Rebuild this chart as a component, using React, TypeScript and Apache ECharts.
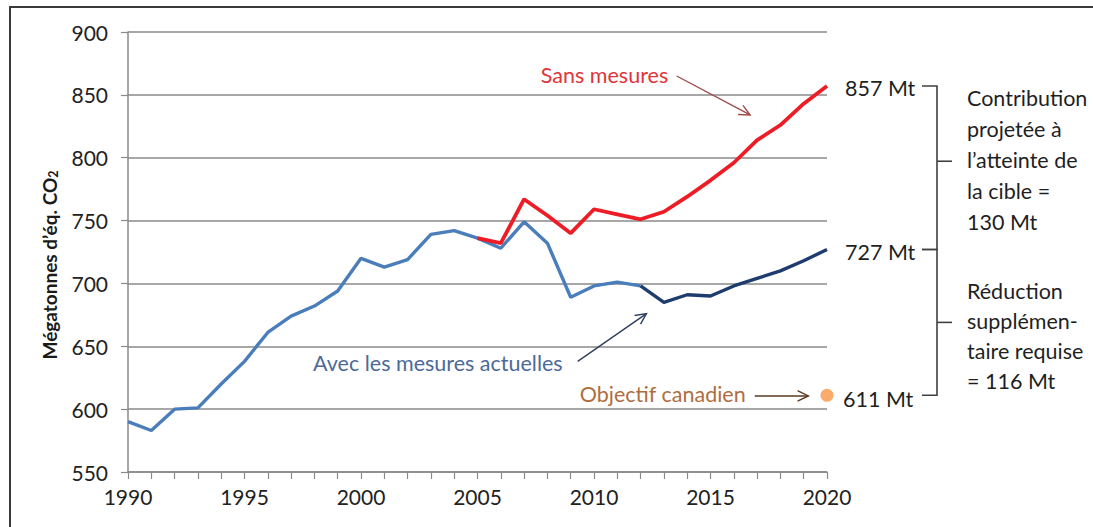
import React, { useEffect, useRef } from "react";
import * as echarts from "echarts";

// Years 1990–2020
const annees = [
  1990, 1991, 1992, 1993, 1994, 1995, 1996, 1997, 1998, 1999, 2000, 2001, 2002, 2003, 2004, 2005,
  2006, 2007, 2008, 2009, 2010, 2011, 2012, 2013, 2014, 2015, 2016, 2017, 2018, 2019, 2020,
];
// "Avec les mesures actuelles" (historical + projection), Mt CO2 eq.
const avecMesures = [
  590, 583, 600, 601, 620, 638, 661, 674, 682, 694, 720, 713, 719, 739, 742, 736,
  728, 749, 732, 689, 698, 701, 698, 685, 691, 690, 698, 704, 710, 718, 727,
];
// "Sans mesures" 2005–2020
const anneesSans = [2005, 2006, 2007, 2008, 2009, 2010, 2011, 2012, 2013, 2014, 2015, 2016, 2017, 2018, 2019, 2020];
const sansMesures = [736, 732, 767, 754, 740, 759, 755, 751, 757, 769, 782, 796, 814, 826, 843, 857];
// Objectif canadien
const objectifAnnee = 2020;
const objectifValeur = 611;
const anneeRupture = 2012;

const yTicks = { min: 550, max: 900, interval: 50 };
const xTicks = { min: 1990, max: 2020, interval: 5 };

const FONT = "Lato, 'Open Sans', sans-serif";
const TXT_SIZE = 21.5;

export default function App() {
  const ref = useRef<HTMLDivElement>(null);

  useEffect(() => {
    if (!ref.current) return;
    const chart = echarts.init(ref.current, null, { renderer: "svg" });

    const lightData = annees
      .map((a, i) => [a, avecMesures[i]])
      .filter((d) => d[0] <= anneeRupture);
    const darkData = annees
      .map((a, i) => [a, avecMesures[i]])
      .filter((d) => d[0] >= anneeRupture);
    const redData = anneesSans.map((a, i) => [a, sansMesures[i]]);

    const gridColor = "#8a8a8a";

    chart.setOption({
      animation: false,
      backgroundColor: "#ffffff",
      grid: { left: 128, right: 266, top: 32, bottom: 55 },
      xAxis: {
        type: "value",
        min: xTicks.min,
        max: xTicks.max,
        interval: xTicks.interval,
        axisLine: { show: true, lineStyle: { color: gridColor, width: 1.5 } },
        axisTick: { show: true, length: 7, lineStyle: { color: gridColor, width: 1.2 } },
        minorTick: { show: true, splitNumber: 5, length: 7, lineStyle: { color: gridColor, width: 1.2 } },
        splitLine: { show: false },
        axisLabel: {
          margin: 14,
          fontFamily: FONT,
          fontSize: 21,
          color: "#222",
          formatter: (v: number) => String(v),
        },
      },
      yAxis: {
        type: "value",
        min: yTicks.min,
        max: yTicks.max,
        interval: yTicks.interval,
        axisLine: { show: true, lineStyle: { color: gridColor, width: 1.5 } },
        axisTick: { show: true, length: 7, lineStyle: { color: gridColor, width: 1.2 } },
        splitLine: { show: true, lineStyle: { color: gridColor, width: 1.5 } },
        axisLabel: {
          margin: 20,
          fontFamily: FONT,
          fontSize: 21,
          color: "#222",
        },
      },
      series: [
        {
          type: "line",
          data: lightData,
          symbol: "none",
          lineStyle: { color: "#4a7ebb", width: 3.4 },
          z: 2,
        },
        {
          type: "line",
          data: darkData,
          symbol: "none",
          lineStyle: { color: "#1f3c6e", width: 3.4 },
          z: 2,
        },
        {
          type: "line",
          data: redData,
          symbol: "none",
          lineStyle: { color: "#ee1c25", width: 3.8 },
          z: 3,
        },
        {
          type: "scatter",
          data: [[objectifAnnee, objectifValeur]],
          symbolSize: 13,
          itemStyle: { color: "#f79646" },
          z: 4,
        },
      ],
    });

    const p = (x: number, y: number) =>
      chart.convertToPixel({ gridIndex: 0 }, [x, y]) as number[];

    const arrow = (a: number[], b: number[], color: string, width: number) => {
      const ang = Math.atan2(b[1] - a[1], b[0] - a[0]);
      const h = 12;
      const s = 0.45;
      const l = [b[0] - h * Math.cos(ang - s), b[1] - h * Math.sin(ang - s)];
      const r = [b[0] - h * Math.cos(ang + s), b[1] - h * Math.sin(ang + s)];
      return [
        {
          type: "line",
          shape: { x1: a[0], y1: a[1], x2: b[0], y2: b[1] },
          style: { stroke: color, lineWidth: width },
          z: 10,
        },
        {
          type: "polyline",
          shape: { points: [l, b, r] },
          style: { stroke: color, lineWidth: width, fill: null },
          z: 10,
        },
      ];
    };

    const y857 = p(2020, 857)[1];
    const y727 = p(2020, 727)[1];
    const y611 = p(2020, 611)[1];
    const xEnd = p(2020, 611)[0];

    const bx0 = xEnd + 95;
    const bx1 = xEnd + 110;
    const bx2 = xEnd + 125;
    const bStroke = "#404040";

    const bracket = (yTop: number, yBot: number) => ({
      type: "polyline",
      shape: { points: [[bx0, yTop], [bx1, yTop], [bx1, yBot], [bx0, yBot]] },
      style: { stroke: bStroke, lineWidth: 1.6, fill: null },
    });
    const midTick = (yMid: number) => ({
      type: "line",
      shape: { x1: bx1, y1: yMid, x2: bx2, y2: yMid },
      style: { stroke: bStroke, lineWidth: 1.6 },
    });

    const txt = (text: string, x: number, y: number, color: string, extra: any = {}) => ({
      type: "text",
      x,
      y,
      style: {
        text,
        fill: color,
        fontFamily: FONT,
        fontSize: TXT_SIZE,
        align: "left",
        verticalAlign: "middle",
        ...extra,
      },
      z: 10,
    });

    const mid1 = y857 + (y727 - y857) * 0.46;
    const mid2 = (y727 + y611) / 2;

    chart.setOption({
      graphic: [
        // frame
        {
          type: "rect",
          shape: { x: 10, y: 7, width: 1200, height: 700 },
          style: { stroke: "#3a3a3a", lineWidth: 2, fill: null },
          silent: true,
        },
        // y axis title
        {
          type: "text",
          x: 49,
          y: 265,
          rotation: Math.PI / 2,
          style: {
            text: "Mégatonnes d’éq. CO{sub|2}",
            fill: "#1a1a1a",
            fontFamily: FONT,
            fontSize: 19,
            fontWeight: "bold",
            align: "center",
            verticalAlign: "middle",
            rich: {
              sub: {
                fontFamily: FONT,
                fontSize: 12.5,
                fontWeight: "bold",
                fill: "#1a1a1a",
                padding: [9, 0, 0, 0],
              },
            },
          },
        },
        // annotations
        txt("Sans mesures", p(2010.45, 0)[0], p(0, 866)[1], "#e0353a", { align: "center" }),
        ...arrow(p(2013.55, 865), p(2016.7, 834), "#a04a4a", 1.4),
        txt("Avec les mesures actuelles", p(2003.3, 0)[0], p(0, 637)[1], "#4b6a99", { align: "center" }),
        ...arrow(p(2009.3, 638), p(2012.25, 676), "#2e3f5c", 1.4),
        txt("Objectif canadien", p(2012.95, 0)[0], p(0, 612)[1], "#b06e3e", { align: "center" }),
        ...arrow(p(2016.9, 610.5), p(2019.2, 610.5), "#5a3a22", 1.4),
        // right labels
        txt("857 Mt", xEnd + 18, y857 + 2, "#1f1f1f"),
        txt("727 Mt", xEnd + 18, y727 + 3, "#1f1f1f"),
        txt("611 Mt", xEnd + 16, y611 + 4, "#1f1f1f"),
        bracket(y857, y727),
        midTick(mid1),
        bracket(y727, y611),
        midTick(mid2),
        txt(
          "Contribution\nprojetée à\nl’atteinte de\nla cible =\n130 Mt",
          xEnd + 140,
          mid1 - 1,
          "#1f1f1f",
          { lineHeight: 31 }
        ),
        txt(
          "Réduction\nsupplémen-\ntaire requise\n= 116 Mt",
          xEnd + 140,
          mid2 + 14,
          "#1f1f1f",
          { lineHeight: 30 }
        ),
      ],
    });

    return () => chart.dispose();
  }, []);

  return (
    <div
      ref={ref}
      style={{ position: "fixed", left: 0, top: 0, width: 1093, height: 527, background: "#fff" }}
    />
  );
}
